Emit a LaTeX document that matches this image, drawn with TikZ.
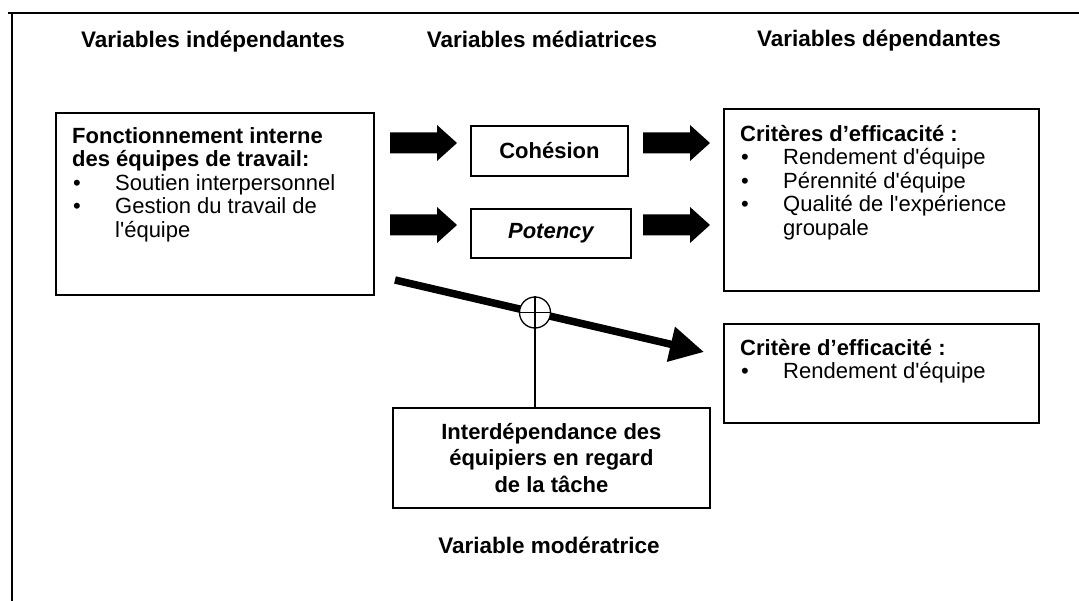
\documentclass[tikz,border=0pt]{standalone}
\usepackage{fontspec}
\newfontfamily\lsans{Liberation Sans}
\usetikzlibrary{arrows.meta}
\newcommand\bul{\makebox[43pt][l]{\hspace{1pt}•}}
\newcommand\frst{\rule{0pt}{19pt}}
\begin{document}
\begin{tikzpicture}[x=1pt,y=-1pt,
  box/.style={draw, line width=1.8pt, inner sep=0, anchor=north west},
  txt/.style={inner sep=0, anchor=north west, align=left, font=\lsans\fontsize{22}{23.5}\selectfont},
  head/.style={inner sep=0, anchor=base, font=\lsans\bfseries\fontsize{22.5}{24}\selectfont},
  mid/.style={inner sep=0, font=\lsans\bfseries\fontsize{22}{24}\selectfont},
  blockarrow/.pic={\fill (0,-10.5) -- (47,-10.5) -- (47,-18) -- (67,0) -- (47,18) -- (47,10.5) -- (0,10.5) -- cycle;}
]
\useasboundingbox (0,0) rectangle (1079,601);
% frame
\draw[line width=1.8pt] (8,13) -- (1079,13);
\draw[line width=1.8pt] (12,13) -- (12,601);
% headings
\node[head] (h1) at (213,48) {Variables indépendantes};
\node[head] (h2) at (542,48) {Variables médiatrices};
\node[head] (h3) at (879,46.5) {Variables dépendantes};
% boxes
\node[box, minimum width=318, minimum height=182] (b1) at (55,112) {};
\node[txt] (t1) at (72,124) {\frst\textbf{Fonctionnement interne}\\
\textbf{des équipes de travail:}\\
\bul Soutien interpersonnel\\
\bul Gestion du travail de\\
\hspace*{43pt}l'équipe};
\node[box, minimum width=157, minimum height=50] (coh) at (470,125) {};
\node[mid] (cohT) at (coh.center) {Cohésion};
\node[box, minimum width=160, minimum height=49] (pot) at (470,208) {};
\node[mid, font=\lsans\bfseries\itshape\fontsize{22}{24}\selectfont] (potT) at (pot.center) {Potency};
\node[box, minimum width=315, minimum height=182] (r1) at (723,108) {};
\node[txt] (rt1) at (740,122) {\frst\textbf{Critères d’efficacité :}\\
\bul Rendement d'équipe\\
\bul Pérennité d'équipe\\
\bul Qualité de l'expérience\\
\hspace*{43pt}groupale};
\node[box, minimum width=315, minimum height=99] (r2) at (723,323) {};
\node[txt] (rt2) at (740,336) {\frst\textbf{Critère d’efficacité :}\\
\bul Rendement d'équipe};
\node[box, minimum width=317, minimum height=100] (inter) at (392,407) {};
\node[mid, align=center, font=\lsans\bfseries\fontsize{22}{26.5}\selectfont] (interT) at (inter.center) {Interdépendance des\\équipiers en regard\\de la tâche};
\node[head] (mod) at (549,553) {Variable modératrice};
% block arrows
\pic at (390,143) {blockarrow};
\pic at (643,143) {blockarrow};
\pic at (390,225) {blockarrow};
\pic at (643,225) {blockarrow};
% diagonal arrow with moderator
\coordinate (ds) at (395,280);
\coordinate (dt) at (704,352);
\draw[line width=7.5pt, -{Triangle[length=34pt,width=34pt]}] (ds) -- (dt);
\node[circle, draw, line width=1.3pt, fill=white, minimum size=31pt, inner sep=0] (circ) at (535,312.5) {};
\draw[line width=1.3pt] (circ.west) -- (circ.east) (circ.north) -- (circ.south);
\draw[line width=1.3pt] (circ.south) -- (circ.south |- inter.north);
\end{tikzpicture}
\end{document}
